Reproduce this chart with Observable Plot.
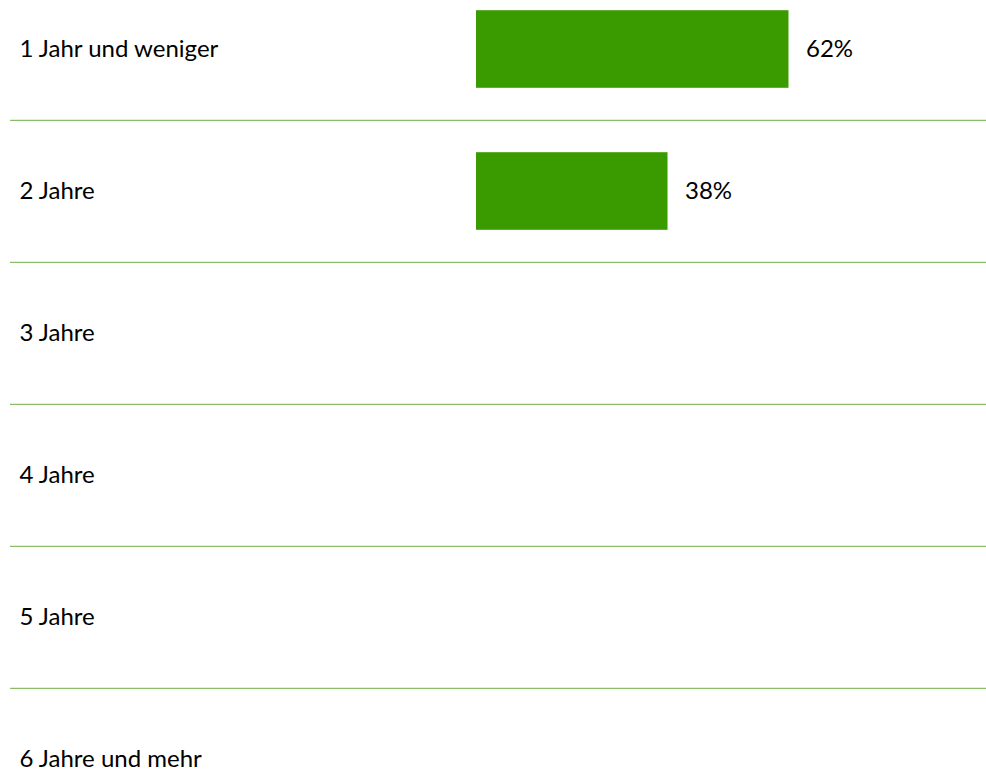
<!DOCTYPE html>
<html>
<head>
<meta charset="utf-8">
<script src="https://cdn.jsdelivr.net/npm/d3@7"></script>
<script src="https://cdn.jsdelivr.net/npm/@observablehq/plot@0.6"></script>
<style>
  html, body { margin: 0; padding: 0; background: #fff; }
  #chart svg { display: block; }
</style>
</head>
<body>
<div id="chart"></div>
<script>
const categories = ["1 Jahr und weniger", "2 Jahre", "3 Jahre", "4 Jahre", "5 Jahre", "6 Jahre und mehr"];
const values = [62, 38, 0, 0, 0, 0];

const data = categories.map((c, i) => ({category: c, value: values[i]}));
const shown = data.filter(d => d.value > 0);

const W = 986, H = 773;
const yRange = [-23.6, 830.8];
const band = (yRange[1] - yRange[0]) / categories.length;
const barH = 78;

const chart = Plot.plot({
  width: W,
  height: H,
  marginLeft: 10,
  marginRight: 0,
  marginTop: 0,
  marginBottom: 0,
  style: {fontFamily: "Lato, 'Open Sans', sans-serif", fontSize: "24px", color: "#000", background: "#fff"},
  x: {domain: [0, 100], range: [476, 980], axis: null},
  y: {domain: categories, range: yRange, padding: 0, axis: null},
  marks: [
    Plot.ruleY(categories.slice(1), {y: d => d, dy: -band / 2, stroke: "#70AD47", strokeWidth: 1}),
    Plot.barX(shown, {y: "category", x: "value", fill: "#3A9B00", insetTop: (band - barH) / 2, insetBottom: (band - barH) / 2}),
    Plot.text(categories, {y: d => d, frameAnchor: "left", textAnchor: "start", dx: 9, fill: "#000", fontSize: 24}),
    Plot.text(shown, {y: "category", x: "value", text: d => d.value + "%", textAnchor: "start", dx: 17, fill: "#000", fontSize: 24})
  ]
});
document.getElementById("chart").appendChild(chart);
</script>
</body>
</html>
